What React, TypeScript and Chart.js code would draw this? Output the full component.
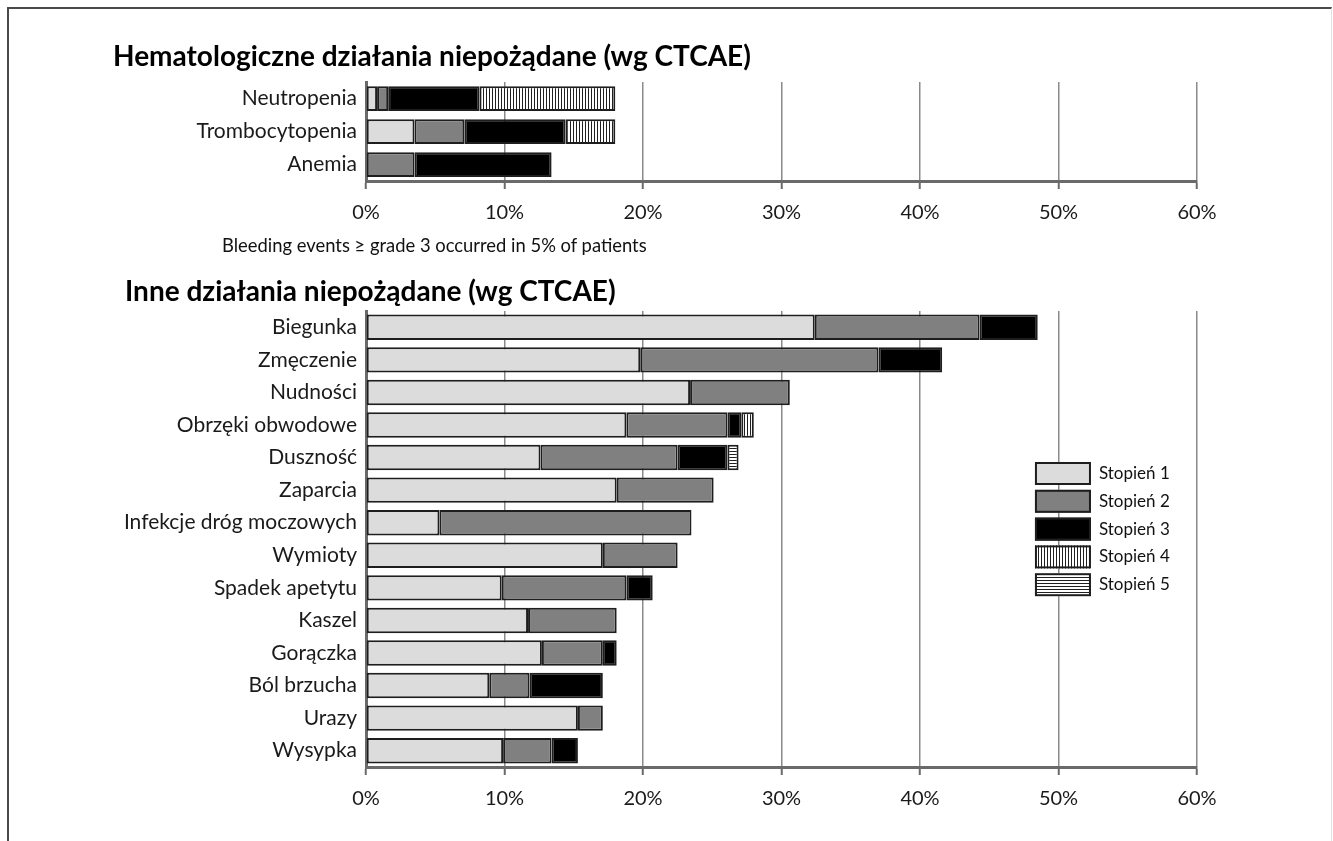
import React, { useEffect, useRef } from "react";
import { Chart, registerables } from "chart.js";

Chart.register(...registerables);

const FONT = "Lato, 'Open Sans', 'Noto Sans', sans-serif";

// ---------- data ----------
const GRADE_LABELS = ["Stopień 1", "Stopień 2", "Stopień 3", "Stopień 4", "Stopień 5"];
const X_TICK_STEP = 10;
const X_MAX = 60;

const hemaTitle = "Hematologiczne działania niepożądane (wg CTCAE)";
const hemaCategories = ["Neutropenia", "Trombocytopenia", "Anemia"];
const hemaG1 = [0.8, 3.5, null];
const hemaG2 = [0.8, 3.6, 3.5];
const hemaG3 = [6.6, 7.3, 9.9];
const hemaG4 = [9.8, 3.6, null];
const hemaG5 = [null, null, null];

const noteText = "Bleeding events ≥ grade 3 occurred in 5% of patients";

const otherTitle = "Inne działania niepożądane (wg CTCAE)";
const otherCategories = [
  "Biegunka",
  "Zmęczenie",
  "Nudności",
  "Obrzęki obwodowe",
  "Duszność",
  "Zaparcia",
  "Infekcje dróg moczowych",
  "Wymioty",
  "Spadek apetytu",
  "Kaszel",
  "Gorączka",
  "Ból brzucha",
  "Urazy",
  "Wysypka",
];
const otherG1 = [32.4, 19.8, 23.4, 18.8, 12.6, 18.1, 5.3, 17.1, 9.8, 11.7, 12.7, 8.9, 15.3, 9.9];
const otherG2 = [11.9, 17.2, 7.2, 7.3, 9.9, 7.0, 18.2, 5.4, 9.0, 6.4, 4.4, 2.9, 1.8, 3.5];
const otherG3 = [4.2, 4.6, null, 1.0, 3.6, null, null, null, 1.9, null, 1.0, 5.3, null, 1.9];
const otherG4 = [null, null, null, 0.9, null, null, null, null, null, null, null, null, null, null];
const otherG5 = [null, null, null, null, 0.8, null, null, null, null, null, null, null, null, null];

// ---------- helpers ----------
function makePattern(vertical: boolean): CanvasPattern | string {
  const c = document.createElement("canvas");
  c.width = 3;
  c.height = 3;
  const g = c.getContext("2d");
  if (!g) return "#999";
  g.fillStyle = "#ffffff";
  g.fillRect(0, 0, 3, 3);
  g.fillStyle = "#202020";
  if (vertical) g.fillRect(0, 0, 1, 3);
  else g.fillRect(0, 0, 3, 1);
  const p = g.createPattern(c, "repeat");
  return p || "#999";
}

const gradeLegendPlugin = {
  id: "gradeLegend",
  afterDraw(chart: any, _args: any, opts: any) {
    if (!opts || !opts.show) return;
    const { ctx, chartArea, scales } = chart;
    const x0 = scales.x.getPixelForValue(opts.xValue);
    ctx.save();
    chart.data.datasets.forEach((ds: any, i: number) => {
      const y = chartArea.top + opts.offsetTop + i * opts.spacing;
      ctx.fillStyle = ds.backgroundColor;
      ctx.fillRect(x0, y, opts.boxWidth, opts.boxHeight);
      ctx.lineWidth = 2;
      ctx.strokeStyle = "#1e1e1e";
      ctx.strokeRect(x0 + 1, y + 1, opts.boxWidth - 2, opts.boxHeight - 2);
      ctx.fillStyle = "#111";
      ctx.font = `17px ${FONT}`;
      ctx.textAlign = "left";
      ctx.textBaseline = "middle";
      ctx.fillText(ds.label, x0 + opts.boxWidth + 8, y + opts.boxHeight / 2);
    });
    ctx.restore();
  },
};

type Props = {
  categories: string[];
  series: (number | null)[][];
  title: string;
  width: number;
  height: number;
  titlePadTop: number;
  titlePadBottom: number;
  leftPad: number;
  yWidth: number;
  xHeight: number;
  barPct: number;
  showLegend: boolean;
};

function StackedBars(p: Props) {
  const ref = useRef<HTMLCanvasElement | null>(null);
  useEffect(() => {
    if (!ref.current) return;
    const fills: any[] = ["#dcdcdc", "#808080", "#000000", makePattern(true), makePattern(false)];
    const datasets = p.series.map((data, i) => ({
      label: GRADE_LABELS[i],
      data,
      backgroundColor: fills[i],
      borderColor: "#1e1e1e",
      borderWidth: 2,
      borderSkipped: false,
      categoryPercentage: 1,
      barPercentage: p.barPct,
    }));
    const chart = new Chart(ref.current, {
      type: "bar",
      data: { labels: p.categories, datasets },
      plugins: [gradeLegendPlugin as any],
      options: {
        indexAxis: "y",
        animation: false,
        responsive: false,
        devicePixelRatio: 1,
        layout: { padding: { left: p.leftPad, right: 136, top: 0, bottom: 0 } },
        plugins: {
          legend: { display: false },
          tooltip: { enabled: false },
          title: {
            display: true,
            text: p.title,
            align: "start",
            color: "#000",
            font: { family: FONT, size: 28, weight: "bold", lineHeight: 1 },
            padding: { top: p.titlePadTop, bottom: p.titlePadBottom },
          },
          gradeLegend: {
            show: p.showLegend,
            xValue: 48.3,
            offsetTop: 151,
            spacing: 27.8,
            boxWidth: 56,
            boxHeight: 23,
          },
        } as any,
        scales: {
          x: {
            type: "linear",
            stacked: true,
            min: 0,
            max: X_MAX,
            ticks: {
              stepSize: X_TICK_STEP,
              callback: (v: any) => `${v}%`,
              color: "#1a1a1a",
              font: { family: FONT, size: 20 },
              padding: 12,
              maxRotation: 0,
            },
            grid: {
              color: "#8a8a8a",
              lineWidth: 1.5,
              drawTicks: true,
              tickLength: 8,
              tickColor: "#6a6a6a",
              tickWidth: 2,
            },
            border: { display: true, color: "#6a6a6a", width: 3 },
            afterFit: (s: any) => {
              s.height = p.xHeight;
            },
          },
          y: {
            type: "category",
            stacked: true,
            grid: { display: false, drawTicks: false },
            border: { display: true, color: "#6a6a6a", width: 3 },
            ticks: {
              color: "#1a1a1a",
              font: { family: FONT, size: 21 },
              padding: 9,
              autoSkip: false,
            },
            afterFit: (s: any) => {
              s.width = p.yWidth;
            },
          },
        },
      } as any,
    });
    return () => chart.destroy();
  }, []);
  return (
    <canvas
      ref={ref}
      width={p.width}
      height={p.height}
      style={{ display: "block", width: p.width, height: p.height }}
    />
  );
}

export default function App() {
  return (
    <div
      style={{
        position: "absolute",
        left: 0,
        top: 0,
        width: 1333,
        height: 841,
        overflow: "hidden",
        background: "#fff",
      }}
    >
      <div
        style={{
          position: "absolute",
          left: 7,
          top: 7,
          width: 1322,
          height: 900,
          borderTop: "2px solid #4a4a4a",
          borderLeft: "2px solid #4a4a4a",
          borderRight: "1px solid #e2e2e2",
        }}
      />
      <div style={{ position: "absolute", left: 0, top: 20 }}>
        <StackedBars
          categories={hemaCategories}
          series={[hemaG1, hemaG2, hemaG3, hemaG4, hemaG5]}
          title={hemaTitle}
          width={1333}
          height={220}
          titlePadTop={23}
          titlePadBottom={11}
          leftPad={113}
          yWidth={253}
          xHeight={59}
          barPct={0.75}
          showLegend={false}
        />
      </div>
      <div
        style={{
          position: "absolute",
          left: 222,
          top: 234,
          fontFamily: FONT,
          fontSize: 18.4,
          lineHeight: "22px",
          color: "#111",
          whiteSpace: "nowrap",
        }}
      >
        {noteText}
      </div>
      <div style={{ position: "absolute", left: 0, top: 262 }}>
        <StackedBars
          categories={otherCategories}
          series={[otherG1, otherG2, otherG3, otherG4, otherG5]}
          title={otherTitle}
          width={1333}
          height={560}
          titlePadTop={16}
          titlePadBottom={5}
          leftPad={125}
          yWidth={241}
          xHeight={55}
          barPct={0.78}
          showLegend={true}
        />
      </div>
    </div>
  );
}
